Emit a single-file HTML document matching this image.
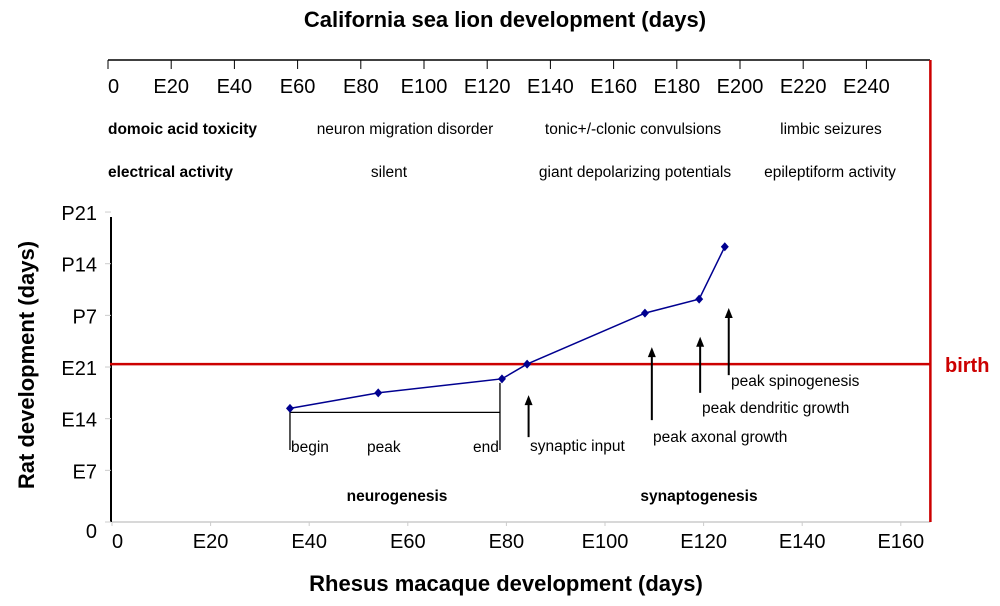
<!DOCTYPE html>
<html><head><meta charset="utf-8"><style>
body{margin:0;background:#fff;}
svg{display:block;font-family:"Liberation Sans",Arial,sans-serif;}
</style></head><body>
<svg width="1000" height="606" viewBox="0 0 1000 606" xmlns="http://www.w3.org/2000/svg">
<text x="505" y="27" font-size="22" font-weight="bold" text-anchor="middle">California sea lion development (days)</text>
<line x1="108" y1="60" x2="930" y2="60" stroke="#000" stroke-width="1.5"/>
<g id="topticks"></g>
<g font-size="15.5">
<text x="108" y="134" font-weight="bold">domoic acid toxicity</text>
<text x="405" y="134" text-anchor="middle">neuron migration disorder</text>
<text x="633" y="134" text-anchor="middle">tonic+/-clonic convulsions</text>
<text x="831" y="134" text-anchor="middle">limbic seizures</text>
<text x="108" y="177" font-weight="bold">electrical activity</text>
<text x="389" y="177" text-anchor="middle">silent</text>
<text x="635" y="177" text-anchor="middle">giant depolarizing potentials</text>
<text x="830" y="177" text-anchor="middle">epileptiform activity</text>
</g>
<text transform="translate(34,365) rotate(-90)" font-size="22" font-weight="bold" text-anchor="middle">Rat development (days)</text>
<text x="506" y="591" font-size="22" font-weight="bold" text-anchor="middle">Rhesus macaque development (days)</text>
<g id="axes"></g>
<g id="marks"></g>
<g font-size="15.5">
<text x="291" y="452">begin</text>
<text x="367" y="452">peak</text>
<text x="473" y="452">end</text>
<text x="530" y="451">synaptic input</text>
<text x="653" y="442">peak axonal growth</text>
<text x="702" y="413">peak dendritic growth</text>
<text x="731" y="386">peak spinogenesis</text>
<text x="397" y="501" font-weight="bold" text-anchor="middle">neurogenesis</text>
<text x="699" y="501" font-weight="bold" text-anchor="middle">synaptogenesis</text>
</g>
<text x="945" y="372" font-size="20" font-weight="bold" fill="#cc0000">birth</text>
</svg>
<script>
const macaqueDays=[36.1,54,79.1,84.2,108.1,119.1,124.3];
const ratDays=[15.4,17.5,19.4,21.4,28.3,30.2,37.3];
const xTickVals=[0,20,40,60,80,100,120,140,160];
const xTickLabels=["0","E20","E40","E60","E80","E100","E120","E140","E160"];
const yTickVals=[0,7,14,21,28,35,42];
const yTickLabels=["0","E7","E14","E21","P7","P14","P21"];
const topTickLabels=["0","E20","E40","E60","E80","E100","E120","E140","E160","E180","E200","E220","E240"];
const birthRat=21.4;
const birthMacaque=166;
const arrowsX=[84.5,109.5,119.3,125.1];
const arrowsTop=[17.2,23.7,25.1,29.0];
const arrowsBottom=[11.5,13.8,17.5,19.9];

const NS="http://www.w3.org/2000/svg";
const xS=d=>112+d*4.93;
const yS=d=>522-d*7.38;
const xTop=d=>108+d*3.16;
function mk(t,a,p){const e=document.createElementNS(NS,t);for(const k in a)e.setAttribute(k,a[k]);p.appendChild(e);return e;}
const axesG=document.getElementById('axes'),marksG=document.getElementById('marks'),topG=document.getElementById('topticks');

topTickLabels.forEach((lab,i)=>{const x=xTop(i*20);
mk('line',{x1:x,y1:60,x2:x,y2:69,stroke:'#000','stroke-width':1},topG);
const t=mk('text',{x:x,y:93,'font-size':20,'text-anchor':i==0?'start':'middle'},topG);t.textContent=lab;

});

let l=mk('line',{x1:xS(0),y1:yS(0),x2:xS(birthMacaque),y2:yS(0),stroke:'#ccc','stroke-width':1.5},axesG);


l=mk('line',{x1:111,y1:yS(42)+5,x2:111,y2:yS(0),stroke:'#000','stroke-width':2},axesG);


xTickVals.forEach((v,i)=>{mk('line',{x1:xS(v),y1:yS(0),x2:xS(v),y2:yS(0)+4,stroke:'#ccc'},axesG);
const t=mk('text',{x:xS(v),y:548,'font-size':20,'text-anchor':i==0?'start':'middle'},axesG);t.textContent=xTickLabels[i];

});
yTickVals.forEach((v,i)=>{mk('line',{x1:105,y1:yS(v),x2:111,y2:yS(v),stroke:'#ccc'},axesG);
const t=mk('text',{x:97,y:yS(v)+(i==0?16:8),'font-size':20,'text-anchor':'end'},axesG);t.textContent=yTickLabels[i];

});

l=mk('line',{x1:110,y1:yS(birthRat),x2:xS(birthMacaque),y2:yS(birthRat),stroke:'#cc0000','stroke-width':2.5},axesG);


l=mk('line',{x1:xS(birthMacaque),y1:60,x2:xS(birthMacaque),y2:522,stroke:'#cc0000','stroke-width':2.5},axesG);



const b1=xS(macaqueDays[0]),b2=xS(macaqueDays[2])-2,by=yS(ratDays[0])+4;
l=mk('path',{d:`M${b1},${yS(ratDays[0])} V450 M${b1},${by} H${b2} M${b2},${yS(ratDays[2])+4} V450`,stroke:'#000','stroke-width':1.3,fill:'none'},axesG);



arrowsX.forEach((v,i)=>{const x=xS(v),y1=yS(arrowsTop[i]),y2=yS(arrowsBottom[i]);
const g=mk('g',{},marksG);


mk('line',{x1:x,y1:y1+8,x2:x,y2:y2,stroke:'#000','stroke-width':2},g);
mk('path',{d:`M${x-4},${y1+10} L${x},${y1} L${x+4},${y1+10}Z`,fill:'#000'},g);});

const pl=mk('polyline',{points:macaqueDays.map((d,i)=>xS(d)+','+yS(ratDays[i])).join(' '),fill:'none',stroke:'#000090','stroke-width':1.5},marksG);


macaqueDays.forEach((d,i)=>{const x=xS(d),y=yS(ratDays[i]);
const p=mk('path',{d:`M${x},${y-4.5} L${x+4},${y} L${x},${y+4.5} L${x-4},${y}Z`,fill:'#000090'},marksG);

});
</script>
</body></html>
